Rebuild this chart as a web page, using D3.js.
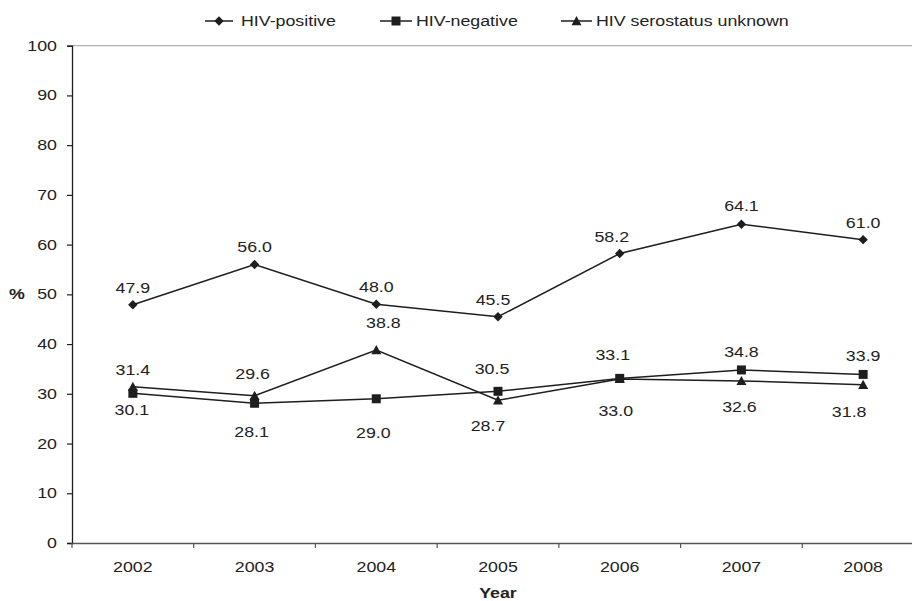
<!DOCTYPE html>
<html>
<head>
<meta charset="utf-8">
<script src="https://cdn.jsdelivr.net/npm/d3@7"></script>
<style>
  html, body { margin: 0; padding: 0; background: #fff; }
  svg { display: block; }
  text { font-family: "Liberation Sans", Arial, Helvetica, sans-serif; fill: #222; }
</style>
</head>
<body>
<svg id="chart" width="912" height="601"></svg>
<script>
// ---- data ----
const years = ["2002", "2003", "2004", "2005", "2006", "2007", "2008"];
const hivPositive = [47.9, 56.0, 48.0, 45.5, 58.2, 64.1, 61.0];
const hivNegative = [30.1, 28.1, 29.0, 30.5, 33.1, 34.8, 33.9];
const hivUnknown  = [31.4, 29.6, 38.8, 28.7, 33.0, 32.6, 31.8];
const yTicks = [0, 10, 20, 30, 40, 50, 60, 70, 80, 90, 100];
const seriesNames = ["HIV-positive", "HIV-negative", "HIV serostatus unknown"];

// ---- label placement (layout only) ----
const posLabelDx = [0, 0, 0, -5, -8, 0, 0];
const posLabelDy = [-17, -17, -17, -17, -16, -18, -17];
const negLabelDx = [-1, -3, -3, -6, -7, 0, 0];
const negLabelDy = [17, 29, 34, -22, -23, -18, -18];
const unkLabelDx = [0, -2, 7, -10, -4, -2, -14];
const unkLabelDy = [-17, -22, -27, 26, 32, 26, 27];

const SX = 1.27;      // horizontal stretch of the reference's type
const FS = 14;
const ink = "#1e1e1e";

const svg = d3.select("#chart");
const mLeft = 72, mRight = 924, mTop = 45.7, mBottom = 543;

const x = d3.scaleBand().domain(years).range([mLeft, mRight]).padding(0);
const y = d3.scaleLinear().domain([0, 100]).range([mBottom, mTop]);
const cx = d => x(d) + x.bandwidth() / 2;

function stretch(sel) {
  sel.each(function() {
    const t = d3.select(this);
    const xx = +t.attr("x") || 0;
    t.attr("x", 0).attr("transform", `translate(${xx},0) scale(${SX},1)`);
  });
}
function stxt(g, tx, ty, str, anchor, weight) {
  return g.append("text")
    .attr("transform", `translate(${tx},${ty}) scale(${SX},1)`)
    .attr("text-anchor", anchor || "middle")
    .attr("dy", "0.35em")
    .style("font-size", FS + "px")
    .style("font-weight", weight || "normal")
    .text(str);
}

// top frame line
svg.append("line")
  .attr("x1", mLeft).attr("x2", 912)
  .attr("y1", y(100)).attr("y2", y(100))
  .attr("stroke", "#b0b0b0").attr("stroke-width", 1.3);

// y axis
const yAxis = svg.append("g")
  .attr("transform", `translate(${mLeft},0)`)
  .call(d3.axisLeft(y).tickValues(yTicks).tickSize(5).tickPadding(10).tickFormat(d3.format("d")));
yAxis.attr("font-family", null).attr("font-size", null);
yAxis.selectAll("text").style("font-size", FS + "px").call(stretch);
yAxis.select(".domain").attr("stroke", ink).attr("stroke-width", 1.3);
yAxis.selectAll(".tick line").attr("stroke", ink).attr("stroke-width", 1.2);

// x axis
const xAxis = svg.append("g")
  .attr("transform", `translate(0,${mBottom})`)
  .call(d3.axisBottom(x).tickSizeInner(0).tickSizeOuter(0).tickPadding(19));
xAxis.attr("font-family", null).attr("font-size", null);
xAxis.selectAll("text").style("font-size", FS + "px").call(stretch);
xAxis.select(".domain").attr("stroke", "#555").attr("stroke-width", 1.3);
xAxis.selectAll(".tick line").remove();
// category boundary ticks
svg.append("g").selectAll("line")
  .data(years)
  .join("line")
  .attr("x1", d => x(d)).attr("x2", d => x(d))
  .attr("y1", mBottom).attr("y2", mBottom + 5)
  .attr("stroke", "#555").attr("stroke-width", 1.2);

// axis titles
stxt(svg, 17, y(50), "%", "middle", "bold");
stxt(svg, (mLeft + mRight) / 2, 593, "Year", "middle", "bold");

// markers
function markerPath(kind) {
  if (kind === 0) return "M0,-4.7L4.7,0L0,4.7L-4.7,0Z";
  if (kind === 1) return "M-4.5,-4.5H4.5V4.5H-4.5Z";
  return "M0,-5L5,4.2H-5Z";
}

const line = d3.line().x((d, i) => cx(years[i])).y(d => y(d));
const series = [
  { vals: hivPositive, dx: posLabelDx, dy: posLabelDy },
  { vals: hivNegative, dx: negLabelDx, dy: negLabelDy },
  { vals: hivUnknown,  dx: unkLabelDx, dy: unkLabelDy }
];

[2, 1, 0].forEach(k => {
  svg.append("path")
    .datum(series[k].vals)
    .attr("d", line)
    .attr("fill", "none")
    .attr("stroke", ink)
    .attr("stroke-width", 1.5);
});
[2, 1, 0].forEach(k => {
  svg.append("g").selectAll("path")
    .data(series[k].vals)
    .join("path")
    .attr("d", markerPath(k))
    .attr("transform", (d, i) => `translate(${cx(years[i])},${y(d)})`)
    .attr("fill", ink);
});
// value labels
series.forEach(s => {
  const g = svg.append("g");
  s.vals.forEach((v, i) => {
    stxt(g, cx(years[i]) + s.dx[i], y(v) + s.dy[i], d3.format(".1f")(v));
  });
});

// legend
const legend = svg.append("g");
const legendItems = [
  { x0: 205, x1: 233, tx: 241 },
  { x0: 380, x1: 412, tx: 416 },
  { x0: 561, x1: 592, tx: 596 }
];
const ly = 21;
seriesNames.forEach((name, k) => {
  const it = legendItems[k];
  legend.append("line")
    .attr("x1", it.x0).attr("x2", it.x1)
    .attr("y1", ly).attr("y2", ly)
    .attr("stroke", ink).attr("stroke-width", 1.5);
  legend.append("path")
    .attr("d", markerPath(k))
    .attr("transform", `translate(${(it.x0 + it.x1) / 2},${ly})`)
    .attr("fill", ink);
  stxt(legend, it.tx, ly, name, "start");
});
</script>
</body>
</html>
